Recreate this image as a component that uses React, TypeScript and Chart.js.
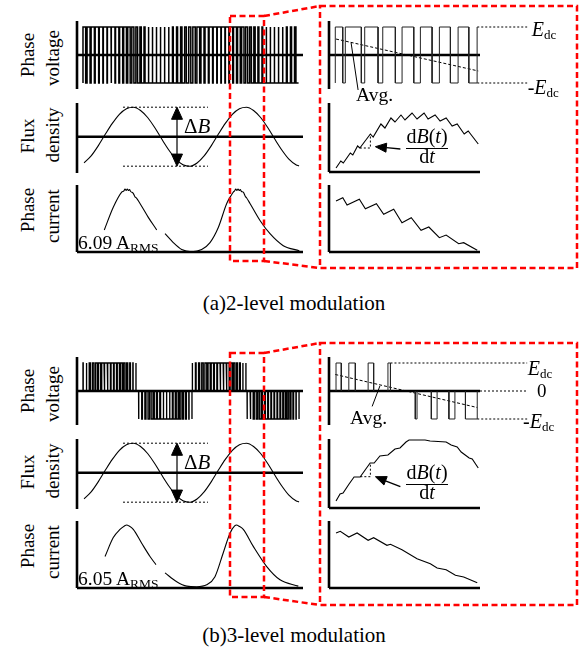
import React, { useEffect, useRef } from "react";
import { Chart, registerables } from "chart.js";
Chart.register(...registerables);

const FONT = '"Liberation Serif", "Times New Roman", Times, serif';
const K = "#000";

// ================= DATA =================
// Left-hand plots: time axis in ms (0 … 40 ms window)
const fluxTime = [1.25, 2.5, 3.75, 5, 6.25, 7.5, 8.75, 10, 11.25, 12.5, 13.75, 15, 16.25, 17.5, 18.75, 20, 21.25, 22.5, 23.75, 25, 26.25, 27.5, 28.75, 30, 31.25, 32.5, 33.75, 35, 36.25, 37.5, 38.75, 39.3];
const fluxA = [-0.89, -0.65, -0.31, 0.08, 0.45, 0.76, 0.95, 1.0, 0.89, 0.65, 0.31, -0.08, -0.45, -0.76, -0.95, -1.0, -0.89, -0.65, -0.31, 0.08, 0.45, 0.76, 0.95, 1.0, 0.89, 0.65, 0.31, -0.08, -0.45, -0.76, -0.95, -0.99];
const fluxB = [-0.89, -0.65, -0.31, 0.08, 0.45, 0.76, 0.95, 1.0, 0.89, 0.65, 0.31, -0.08, -0.45, -0.76, -0.95, -1.0, -0.89, -0.65, -0.31, 0.08, 0.45, 0.76, 0.95, 1.0, 0.89, 0.65, 0.31, -0.08, -0.45, -0.76, -0.95, -0.99];

const currentATime = [4.83, 6.42, 7.91, 8.3, 8.5, 8.7, 8.9, 9.1, 9.3, 9.5, 9.96, 10.3, 10.5, 11.15, 12.62, 14.11, 14.8, 15.58, 17.04, 18.53, 20.3, 22.07, 23.54, 25.01, 26.5, 27.3, 27.66, 27.9, 28.1, 28.3, 28.5, 28.7, 28.9, 29.1, 29.43, 29.8, 30.0, 30.62, 32.39, 34.16, 36.51, 39.35];
const currentA = [0.35, 0.71, 0.95, 0.97, 1.0, 0.975, 1.0, 0.975, 0.99, 0.96, 0.93, 0.87, 0.86, 0.77, 0.55, 0.35, null, 0.29, 0.15, 0.04, 0.005, 0.04, 0.15, 0.39, 0.77, 0.9, 0.95, 0.97, 1.0, 0.975, 1.0, 0.975, 0.99, 0.96, 0.95, 0.88, 0.86, 0.77, 0.5, 0.29, 0.1, 0.02];
const currentBTime = [4.96, 6.42, 7.61, 8.4, 8.8, 9.2, 9.96, 11.45, 12.92, 13.98, 14.8, 15.58, 17.65, 19.42, 21.19, 22.96, 24.42, 25.89, 27.08, 27.9, 28.27, 28.6, 29.43, 31.2, 33.58, 35.93, 39.17];
const currentB = [0.5, 0.8, 0.93, 0.985, 1.0, 0.985, 0.93, 0.71, 0.5, 0.37, null, 0.24, 0.1, 0.03, 0.02, 0.05, 0.18, 0.56, 0.87, 0.985, 1.0, 0.985, 0.93, 0.66, 0.34, 0.13, 0.03];

// 2-level PWM: carrier start / period (ms) and duty per carrier period
const pwmStartA = 1.06;
const pwmPeriodA = 0.72;
const dutyA = [0.66, 0.74, 0.8, 0.85, 0.89, 0.9, 0.89, 0.86, 0.82, 0.76, 0.68, 0.6, 0.51, 0.42, 0.33, 0.25, 0.19, 0.14, 0.11, 0.1, 0.11, 0.14, 0.19, 0.25, 0.33, 0.41, 0.5, 0.59, 0.68, 0.75, 0.82, 0.86, 0.89, 0.9, 0.89, 0.86, 0.81, 0.74, 0.66, 0.58, 0.49, 0.4, 0.32, 0.24, 0.18, 0.13, 0.11, 0.1, 0.12, 0.15, 0.2, 0.27, 0.35];
// 3-level PWM: half-cycle blocks and duty per carrier period inside a block
const blockStartB = [1.06, 10.9, 20.4, 30.1];
const blockEndB = [10.44, 20.35, 29.9, 39.3];
const blockSignB = [1, -1, 1, -1];
const dutyB = [0.07, 0.22, 0.36, 0.48, 0.59, 0.68, 0.75, 0.79, 0.8, 0.79, 0.75, 0.68, 0.59, 0.48, 0.36, 0.22, 0.07];

// Zoomed (right-hand) plots: time in ms, 27.08 … 33.1 ms
const rvEdgesA = [27.331, 27.627, 27.73, 28.369, 28.504, 29.035, 29.223, 29.725, 29.993, 30.46, 30.723, 31.19, 31.481, 31.92, 32.227, 32.654, 32.985];
const avgTimeA = [27.36, 33.03];
const avgA = [0.57, -0.57];
const rfluxATime = [27.36, 27.55, 27.65, 27.93, 28.03, 28.22, 28.31, 28.73, 28.84, 29.15, 29.31, 29.55, 29.71, 29.95, 30.11, 30.39, 30.59, 30.87, 31.03, 31.31, 31.51, 31.75, 31.99, 32.19, 32.47, 32.63, 33.03];
const rfluxA = [4, 11, 9, 19, 17, 26, 24, 38, 35, 48, 44, 54, 50, 57, 52, 59, 53, 59, 53, 57, 51, 54, 46, 48, 38, 41, 28];
const rcurATime = [27.36, 27.63, 27.8, 28.29, 28.53, 28.97, 29.26, 29.66, 29.99, 30.36, 30.75, 31.06, 31.48, 31.75, 32.25, 32.45, 32.99];
const rcurA = [51, 54.3, 47, 52.7, 43.3, 48.3, 37.7, 42.7, 29.3, 34.3, 21.7, 25, 14.3, 17, 8.3, 9.3, 1.7];

const rvPulseStartB = [27.36, 27.87, 28.64, 29.43, 30.52, 31.16, 31.86, 32.52];
const rvPulseEndB = [27.57, 28.13, 28.86, 29.53, 30.59, 31.39, 32.1, 32.99];
const rvPulseSignB = [1, 1, 1, 1, -1, -1, -1, -1];
const avgTimeB = [27.33, 32.99];
const avgB = [0.59, -0.59];
const rfluxBTime = [27.36, 27.52, 27.64, 27.88, 28.08, 28.32, 28.72, 28.88, 29.11, 29.43, 29.71, 29.91, 30.15, 30.27, 30.91, 31.11, 31.75, 31.95, 32.19, 32.35, 32.67, 32.79, 33.03];
const rfluxB = [7, 14, 15, 24, 31, 31, 45, 45, 52, 53, 59, 60, 66, 68, 68, 67, 66, 63, 61, 56, 50, 49, 40];
const rcurBTime = [27.36, 27.53, 27.87, 28.2, 28.64, 28.86, 29.39, 29.53, 29.99, 30.59, 31.12, 31.39, 31.75, 32.12, 32.45, 32.99];
const rcurB = [55, 56.7, 51, 55, 47.7, 50.3, 42.7, 43.7, 38.3, 29.3, 24.3, 20, 18.3, 12.7, 11, 5.3];

// ================= helpers =================
type P = { x: number; y: number | null };
const xy = (xs: number[], ys: (number | null)[]): P[] => xs.map((x, i) => ({ x, y: ys[i] }));
const ln = (pts: P[], o: any = {}) => ({
  data: pts, borderColor: K, borderWidth: 1.2, pointRadius: 0, fill: false, clip: false, tension: 0, ...o,
});
const poly = (pts: P[]) => ln(pts, { fill: "shape", backgroundColor: K, borderWidth: 1 });

function twoLevel(start: number, period: number, duties: number[]): P[] {
  const pts: P[] = [{ x: start, y: -1 }];
  duties.forEach((d, k) => {
    const t0 = start + k * period;
    pts.push({ x: t0, y: 1 }, { x: t0 + d * period, y: 1 }, { x: t0 + d * period, y: -1 }, { x: t0 + period, y: -1 });
  });
  return pts;
}
function threeLevel(starts: number[], ends: number[], signs: number[], duties: number[]): P[] {
  const pts: P[] = [];
  starts.forEach((a, i) => {
    const per = (ends[i] - a) / duties.length;
    duties.forEach((d, k) => {
      const t0 = a + k * per;
      pts.push({ x: t0, y: 0 }, { x: t0, y: signs[i] }, { x: t0 + d * per, y: signs[i] }, { x: t0 + d * per, y: 0 });
    });
    pts.push({ x: ends[i], y: 0 }, { x: ends[i], y: signs[i] }, { x: ends[i], y: 0 });
    pts.push({ x: ends[i], y: null });
  });
  return pts;
}
function edgesWave(edges: number[]): P[] {
  const pts: P[] = [{ x: edges[0], y: -1 }, { x: edges[0], y: 1 }];
  let lv = 1;
  for (let i = 1; i < edges.length; i++) {
    pts.push({ x: edges[i], y: lv });
    lv = -lv;
    pts.push({ x: edges[i], y: lv });
  }
  return pts;
}
function pulses(st: number[], en: number[], sg: number[]): P[] {
  const pts: P[] = [];
  st.forEach((a, i) => {
    pts.push({ x: a, y: 0 }, { x: a, y: sg[i] }, { x: en[i], y: sg[i] }, { x: en[i], y: 0 }, { x: en[i], y: null });
  });
  return pts;
}

type Pad = { left: number; right: number; top: number; bottom: number };
function Plot(props: { left: number; top: number; width: number; height: number; pad: Pad; xMin: number; xMax: number; yMin: number; yMax: number; datasets: any[] }) {
  const ref = useRef<HTMLCanvasElement>(null);
  const { left, top, width, height, pad } = props;
  const W = width + pad.left + pad.right;
  const H = height + pad.top + pad.bottom;
  useEffect(() => {
    const c = new Chart(ref.current as HTMLCanvasElement, {
      type: "line",
      data: { datasets: props.datasets },
      options: {
        animation: false,
        responsive: false,
        maintainAspectRatio: false,
        events: [],
        layout: { padding: pad },
        plugins: { legend: { display: false }, tooltip: { enabled: false } },
        scales: {
          x: { type: "linear", min: props.xMin, max: props.xMax, display: false },
          y: { type: "linear", min: props.yMin, max: props.yMax, display: false },
        },
      } as any,
    });
    return () => c.destroy();
  }, []);
  return <canvas ref={ref} width={W} height={H} style={{ position: "absolute", left: left - pad.left, top: top - pad.top, width: W, height: H }} />;
}

const AX = 2.6;
const LT0 = 0, LT1 = 40, RT0 = 27.08, RT1 = 33.1;
const VY = 1.2143;
const padS: Pad = { left: 4, right: 4, top: 4, bottom: 4 };
const padR: Pad = { left: 4, right: 52, top: 4, bottom: 6 };

function Rot({ cx, cy, children }: any) {
  return <div style={{ position: "absolute", left: cx, top: cy, transform: "translate(-50%,-50%) rotate(-90deg)", fontSize: 19, lineHeight: "19px", whiteSpace: "nowrap" }}>{children}</div>;
}
function T({ x, y, size = 19, center = false, children, style = {} }: any) {
  return <div style={{ position: "absolute", left: x, top: y - 0.8375 * size, fontSize: size, lineHeight: `${size}px`, whiteSpace: "nowrap", transform: center ? "translateX(-50%)" : undefined, ...style }}>{children}</div>;
}
const Sub = ({ children, size = 13 }: any) => <span style={{ fontSize: size, position: "relative", top: 3 }}>{children}</span>;

function Panel({ dy, b }: { dy: number; b: boolean }) {
  // ---- left column ----
  const leftV = [
    ln([{ x: LT0, y: -VY }, { x: LT0, y: VY }], { borderWidth: AX }),
    b ? ln(threeLevel(blockStartB, blockEndB, blockSignB, dutyB), { borderWidth: 1.35 })
      : ln(twoLevel(pwmStartA, pwmPeriodA, dutyA), { borderWidth: 1.5 }),
    ln([{ x: LT0, y: 0 }, { x: LT1, y: 0 }], { borderWidth: AX }),
  ];
  const leftB = [
    ln([{ x: LT0, y: -1.231 }, { x: LT0, y: 1.142 }], { borderWidth: AX }),
    ln([{ x: LT0, y: 0 }, { x: LT1, y: 0 }], { borderWidth: AX }),
    ln(xy(fluxTime, b ? fluxB : fluxA), { cubicInterpolationMode: "monotone", borderWidth: 1.1 }),
    ln([{ x: 8.14, y: 1 }, { x: 23.19, y: 1 }], { borderWidth: 1, borderDash: [2, 2] }),
    ln([{ x: 8.14, y: -1 }, { x: 23.19, y: -1 }], { borderWidth: 1, borderDash: [2, 2] }),
    ln([{ x: 17.7, y: 0.6 }, { x: 17.7, y: -0.6 }], { borderWidth: 1.2 }),
    poly([{ x: 16.73, y: 0.59 }, { x: 17.7, y: 1.0 }, { x: 18.67, y: 0.59 }, { x: 16.73, y: 0.59 }]),
    poly([{ x: 16.73, y: -0.59 }, { x: 17.7, y: -1.0 }, { x: 18.67, y: -0.59 }, { x: 16.73, y: -0.59 }]),
  ];
  const leftI = [
    ln([{ x: LT0, y: 0 }, { x: LT0, y: 1.063 }], { borderWidth: AX }),
    ln([{ x: LT0, y: 0 }, { x: LT1, y: 0 }], { borderWidth: AX }),
    ln(b ? xy(currentBTime, currentB) : xy(currentATime, currentA), { cubicInterpolationMode: "monotone", borderWidth: 1.1 }),
  ];
  // ---- right column ----
  const rightV = b
    ? [
        ln([{ x: RT0, y: -VY }, { x: RT0, y: VY }], { borderWidth: AX }),
        ln(pulses(rvPulseStartB, rvPulseEndB, rvPulseSignB), { borderWidth: 1, borderColor: "#222" }),
        ln([{ x: RT0, y: 0 }, { x: RT1, y: 0 }], { borderWidth: AX }),
        ln(xy(avgTimeB, avgB), { borderWidth: 1, borderDash: [3, 2] }),
        ln([{ x: 29.11, y: 0.18 }, { x: 28.8, y: -0.55 }], { borderWidth: 1 }),
        ln([{ x: 29.53, y: 1 }, { x: 34.98, y: 1 }], { borderWidth: 1, borderDash: [2, 2] }),
        ln([{ x: 33.1, y: 0 }, { x: 34.98, y: 0 }], { borderWidth: 1, borderDash: [2, 2] }),
        ln([{ x: 32.99, y: -1 }, { x: 34.98, y: -1 }], { borderWidth: 1, borderDash: [2, 2] }),
      ]
    : [
        ln([{ x: RT0, y: -VY }, { x: RT0, y: VY }], { borderWidth: AX }),
        ln(edgesWave(rvEdgesA), { borderWidth: 1, borderColor: "#222" }),
        ln([{ x: RT0, y: 0 }, { x: RT1, y: 0 }], { borderWidth: AX }),
        ln(xy(avgTimeA, avgA), { borderWidth: 1, borderDash: [3, 2] }),
        ln([{ x: 27.96, y: 0.44 }, { x: 28.24, y: -1.25 }], { borderWidth: 1 }),
        ln([{ x: 32.99, y: 1 }, { x: 34.98, y: 1 }], { borderWidth: 1, borderDash: [2, 2] }),
        ln([{ x: 32.99, y: -1 }, { x: 34.98, y: -1 }], { borderWidth: 1, borderDash: [2, 2] }),
      ];
  const rightB = b
    ? [
        ln([{ x: RT0, y: 0 }, { x: RT0, y: 69 }], { borderWidth: AX }),
        ln([{ x: RT0, y: 0 }, { x: RT1, y: 0 }], { borderWidth: AX }),
        ln(xy(rfluxBTime, rfluxB), { borderWidth: 1.1 }),
        ln([{ x: 28.33, y: 31.3 }, { x: 28.73, y: 31.3 }, { x: 28.73, y: 45 }], { borderWidth: 1, borderDash: [2, 2] }),
        ln([{ x: 29.33, y: 27.2 }, { x: 29.925, y: 21.3 }], { borderWidth: 1.3 }),
        poly([{ x: 28.93, y: 31.3 }, { x: 29.4, y: 31.4 }, { x: 29.27, y: 23.0 }, { x: 28.93, y: 31.3 }]),
      ]
    : [
        ln([{ x: RT0, y: 0 }, { x: RT0, y: 69 }], { borderWidth: AX }),
        ln([{ x: RT0, y: 0 }, { x: RT1, y: 0 }], { borderWidth: AX }),
        ln(xy(rfluxATime, rfluxA), { borderWidth: 1.1 }),
        ln([{ x: 28.31, y: 24 }, { x: 28.73, y: 24 }, { x: 28.73, y: 38 }], { borderWidth: 1, borderDash: [2, 2] }),
        ln([{ x: 29.37, y: 24.3 }, { x: 29.925, y: 23 }], { borderWidth: 1.3 }),
        poly([{ x: 28.93, y: 25.3 }, { x: 29.38, y: 28.8 }, { x: 29.35, y: 19.8 }, { x: 28.93, y: 25.3 }]),
      ];
  const rightI = [
    ln([{ x: RT0, y: 0 }, { x: RT0, y: 67 }], { borderWidth: AX }),
    ln([{ x: RT0, y: 0 }, { x: RT1, y: 0 }], { borderWidth: AX }),
    ln(b ? xy(rcurBTime, rcurB) : xy(rcurATime, rcurA), { borderWidth: 1.1 }),
  ];

  return (
    <>
      <Plot left={77} top={21 + dy} width={226} height={68} pad={padS} xMin={LT0} xMax={LT1} yMin={-VY} yMax={VY} datasets={leftV} />
      <Plot left={77} top={103 + dy} width={226} height={70} pad={padS} xMin={LT0} xMax={LT1} yMin={-1.231} yMax={1.142} datasets={leftB} />
      <Plot left={77} top={185 + dy} width={226} height={67} pad={padS} xMin={LT0} xMax={LT1} yMin={0} yMax={1.063} datasets={leftI} />
      <Plot left={329} top={21 + dy} width={151} height={68} pad={padR} xMin={RT0} xMax={RT1} yMin={-VY} yMax={VY} datasets={rightV} />
      <Plot left={329} top={103 + dy} width={151} height={69} pad={padS} xMin={RT0} xMax={RT1} yMin={0} yMax={69} datasets={rightB} />
      <Plot left={329} top={185 + dy} width={151} height={67} pad={padS} xMin={RT0} xMax={RT1} yMin={0} yMax={67} datasets={rightI} />

      <Rot cx={26.6} cy={55 + dy}>Phase</Rot>
      <Rot cx={51.6} cy={57.5 + dy}>voltage</Rot>
      <Rot cx={26.6} cy={136 + dy}>Flux</Rot>
      <Rot cx={51.6} cy={135 + dy}>density</Rot>
      <Rot cx={26.6} cy={210 + dy}>Phase</Rot>
      <Rot cx={51.6} cy={216 + dy}>current</Rot>

      <T x={184} y={134 + dy} size={21}>Δ<i>B</i></T>
      <T x={78} y={249 + dy} size={19.5}>{b ? "6.05" : "6.09"} A<Sub size={13.5}>RMS</Sub></T>

      {b ? (
        <>
          <T x={527.7} y={375 + dy - 336} size={20}><i>E</i><Sub>dc</Sub></T>
          <T x={537} y={396.7 + dy - 336} size={19}>0</T>
          <T x={523} y={428 + dy - 336} size={20}>-<i>E</i><Sub>dc</Sub></T>
          <T x={350} y={424 + dy - 336} size={19.5}>Avg.</T>
        </>
      ) : (
        <>
          <T x={531.7} y={36} size={20}><i>E</i><Sub>dc</Sub></T>
          <T x={527.7} y={94} size={20}>-<i>E</i><Sub>dc</Sub></T>
          <T x={356} y={101} size={19.5}>Avg.</T>
        </>
      )}
      <T x={427} y={143 + dy} size={20} center>d<i>B</i>(<i>t</i>)</T>
      <div style={{ position: "absolute", left: 406, top: 147.5 + dy, width: 42, height: 1.2, background: K }} />
      <T x={427} y={163 + dy} size={20} center>d<i>t</i></T>

      <T x={294} y={311 + (b ? 332 : 0)} size={21} center>{b ? "(b)3-level modulation" : "(a)2-level modulation"}</T>
    </>
  );
}

export default function App() {
  const red = { fill: "none", stroke: "#ff0000", strokeWidth: 2.5, strokeDasharray: "6 3.5" } as any;
  return (
    <div style={{ position: "fixed", left: 0, top: 0, width: 579, height: 655, background: "#fff", overflow: "hidden", fontFamily: FONT, color: K }}>
      <Panel dy={0} b={false} />
      <Panel dy={336} b={true} />
      <svg width={579} height={655} style={{ position: "absolute", left: 0, top: 0, pointerEvents: "none" }}>
        <rect x={230} y={16} width={34} height={245} {...red} />
        <line x1={264} y1={16} x2={320} y2={6} {...red} />
        <line x1={264} y1={261} x2={320} y2={268} {...red} />
        <rect x={320} y={6} width={257} height={262} {...red} />
        <rect x={230} y={353} width={34} height={244} {...red} />
        <line x1={264} y1={353} x2={320} y2={343} {...red} />
        <line x1={264} y1={597} x2={320} y2={605} {...red} />
        <rect x={320} y={343} width={257} height={262} {...red} />
      </svg>
    </div>
  );
}
